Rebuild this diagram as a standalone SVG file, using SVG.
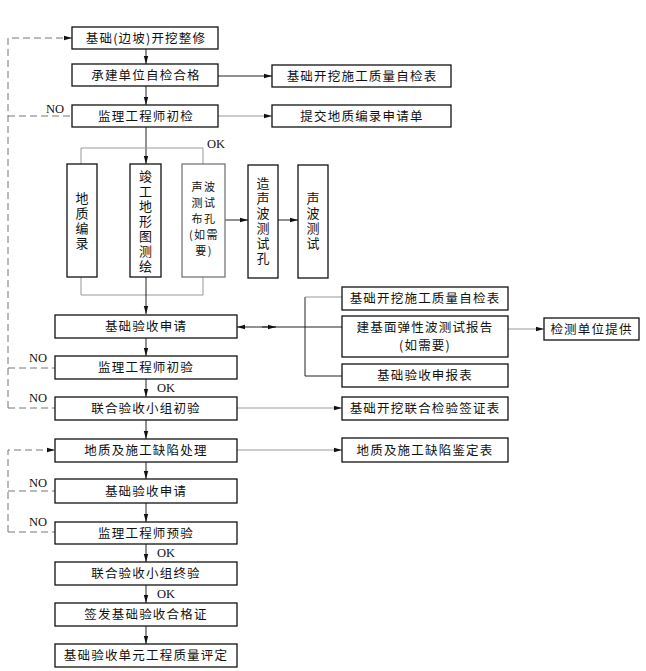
<svg xmlns="http://www.w3.org/2000/svg" width="646" height="671" viewBox="0 0 646 671">
<defs>
<style>
.box{fill:#fff;stroke:#111;stroke-width:1.3}
.gbox{fill:#fff;stroke:#777;stroke-width:1.3}
.t{font-family:"Noto Sans CJK SC","Noto Sans CJK TC",sans-serif;font-size:12.5px;fill:#111;text-anchor:middle;letter-spacing:1.2px}
.v{font-family:"Noto Sans CJK SC",sans-serif;font-size:13px;fill:#111;text-anchor:middle;writing-mode:vertical-rl;letter-spacing:2px}
.h{font-family:"Noto Sans CJK SC",sans-serif;font-size:11px;fill:#111;text-anchor:middle;letter-spacing:1.5px}
.lab{font-family:"Liberation Serif",serif;font-size:12.5px;fill:#111}
.ln{fill:none;stroke:#222;stroke-width:1}
.gl{fill:none;stroke:#999;stroke-width:1}
.dl{fill:none;stroke:#777;stroke-width:1;stroke-dasharray:7,4}
</style>
<marker id="ah" markerWidth="9" markerHeight="6" refX="8" refY="3" orient="auto" markerUnits="userSpaceOnUse">
<path d="M0,0.8 L8,3 L0,5.2 z" fill="#111"/>
</marker>
<marker id="ahs" markerWidth="9" markerHeight="6" refX="0" refY="3" orient="auto" markerUnits="userSpaceOnUse">
<path d="M8,0.8 L0,3 L8,5.2 z" fill="#111"/>
</marker>
</defs>

<g id="connectors">
<line class="ln" x1="146" y1="49" x2="146" y2="64" marker-end="url(#ah)"/>
<line class="ln" x1="146" y1="86" x2="146" y2="105" marker-end="url(#ah)"/>
<line class="ln" x1="146" y1="127" x2="146" y2="164" marker-end="url(#ah)"/>
<path class="gl" d="M81,164 V148 H203 V164"/>
<path class="gl" d="M81,277 V295 H203 V277"/>
<line class="ln" x1="146" y1="277" x2="146" y2="314" marker-end="url(#ah)"/>
<line class="ln" x1="218" y1="76" x2="272" y2="76" marker-end="url(#ah)"/>
<line class="gl" x1="218" y1="116" x2="272" y2="116" marker-end="url(#ah)"/>
<line class="ln" x1="225" y1="220" x2="248" y2="220" marker-end="url(#ah)"/>
<line class="ln" x1="278" y1="220" x2="298" y2="220" marker-end="url(#ah)"/>
<line class="ln" x1="146" y1="338" x2="146" y2="356" marker-end="url(#ah)"/>
<line class="ln" x1="146" y1="379" x2="146" y2="397" marker-end="url(#ah)"/>
<line class="ln" x1="146" y1="420" x2="146" y2="439" marker-end="url(#ah)"/>
<line class="ln" x1="146" y1="462" x2="146" y2="479" marker-end="url(#ah)"/>
<line class="ln" x1="146" y1="503" x2="146" y2="522" marker-end="url(#ah)"/>
<line class="ln" x1="146" y1="544" x2="146" y2="562" marker-end="url(#ah)"/>
<line class="ln" x1="146" y1="585" x2="146" y2="603" marker-end="url(#ah)"/>
<line class="ln" x1="146" y1="626" x2="146" y2="644" marker-end="url(#ah)"/>
<line class="ln" x1="237" y1="327" x2="305" y2="327" marker-start="url(#ahs)"/>
<line class="ln" x1="262" y1="327" x2="276" y2="327" marker-end="url(#ah)"/>
<path class="ln" d="M305,297 V376 H342"/>
<line class="gl" x1="305" y1="297" x2="342" y2="297"/>
<line class="ln" x1="305" y1="327" x2="342" y2="327"/>
<line class="gl" x1="508" y1="329" x2="544" y2="329" marker-end="url(#ah)"/>
<line class="gl" x1="237" y1="408" x2="342" y2="408" marker-end="url(#ah)"/>
<line class="gl" x1="237" y1="450" x2="342" y2="450" marker-end="url(#ah)"/>
<path class="dl" d="M8,408 V38 H72" marker-end="url(#ah)"/>
<line class="dl" x1="8" y1="116" x2="72" y2="116"/>
<line class="dl" x1="8" y1="368" x2="55" y2="368"/>
<line class="dl" x1="8" y1="408" x2="55" y2="408"/>
<path class="dl" d="M8,532 V450 H55" marker-end="url(#ah)"/>
<line class="dl" x1="8" y1="491" x2="55" y2="491"/>
<line class="dl" x1="8" y1="532" x2="55" y2="532"/>
<text class="lab" x="46" y="113">NO</text>
<text class="lab" x="207" y="148">OK</text>
<text class="lab" x="29" y="362">NO</text>
<text class="lab" x="157" y="392">OK</text>
<text class="lab" x="29" y="402">NO</text>
<text class="lab" x="29" y="487">NO</text>
<text class="lab" x="29" y="526">NO</text>
<text class="lab" x="157" y="557">OK</text>
<text class="lab" x="157" y="598">OK</text>
</g>

<g id="n1"><rect class="box" x="72" y="27" width="146" height="22"/><text class="t" x="146" y="42.5">基础(边坡)开挖整修</text></g>
<g id="n2"><rect class="box" x="72" y="64" width="146" height="22"/><text class="t" x="146" y="79.5">承建单位自检合格</text></g>
<g id="n3"><rect class="box" x="272" y="65" width="179" height="22"/><text class="t" x="362" y="80.5">基础开挖施工质量自检表</text></g>
<g id="n4"><rect class="box" x="72" y="105" width="146" height="22"/><text class="t" x="146" y="120.5">监理工程师初检</text></g>
<g id="n5"><rect class="box" x="272" y="105" width="179" height="22"/><text class="t" x="362" y="120.5">提交地质编录申请单</text></g>

<g id="n6"><rect class="box" x="67" y="164" width="30" height="113"/>
<text class="v" x="82" y="222">地质编录</text></g>
<g id="n7"><rect class="box" x="130" y="164" width="31" height="113"/>
<text class="v" x="145.5" y="222">竣工地形图测绘</text></g>
<g id="n8"><rect class="gbox" x="182" y="164" width="43" height="113"/>
<text class="h"><tspan x="204" y="191">声波</tspan><tspan x="204" y="207">测试</tspan><tspan x="204" y="223">布孔</tspan><tspan x="204" y="239">(如需</tspan><tspan x="204" y="255">要)</tspan></text></g>
<g id="n9"><rect class="box" x="248" y="165" width="30" height="113"/>
<text class="v" x="263" y="222">造声波测试孔</text></g>
<g id="n10"><rect class="box" x="298" y="165" width="30" height="113"/>
<text class="v" x="313" y="222">声波测试</text></g>

<g id="n11"><rect class="box" x="55" y="315" width="182" height="23"/><text class="t" x="146" y="331">基础验收申请</text></g>
<g id="n12"><rect class="box" x="342" y="287" width="166" height="23"/><text class="t" x="425" y="303">基础开挖施工质量自检表</text></g>
<g id="n13"><rect class="box" x="342" y="316" width="166" height="41"/><text class="t"><tspan x="425" y="332">建基面弹性波测试报告</tspan><tspan x="425" y="350">(如需要)</tspan></text></g>
<g id="n14"><rect class="box" x="544" y="318" width="95" height="22"/><text class="t" x="591.5" y="333.5">检测单位提供</text></g>
<g id="n15"><rect class="box" x="342" y="364" width="166" height="23"/><text class="t" x="425" y="380">基础验收申报表</text></g>
<g id="n16"><rect class="box" x="55" y="356" width="182" height="23"/><text class="t" x="146" y="372">监理工程师初验</text></g>
<g id="n17"><rect class="box" x="55" y="397" width="182" height="23"/><text class="t" x="146" y="413">联合验收小组初验</text></g>
<g id="n18"><rect class="box" x="342" y="397" width="166" height="23"/><text class="t" x="425" y="413">基础开挖联合检验签证表</text></g>
<g id="n19"><rect class="box" x="55" y="439" width="182" height="23"/><text class="t" x="146" y="455">地质及施工缺陷处理</text></g>
<g id="n20"><rect class="box" x="342" y="438" width="166" height="24"/><text class="t" x="425" y="454.5">地质及施工缺陷鉴定表</text></g>
<g id="n21"><rect class="box" x="55" y="479" width="182" height="24"/><text class="t" x="146" y="495.5">基础验收申请</text></g>
<g id="n22"><rect class="box" x="55" y="522" width="182" height="22"/><text class="t" x="146" y="537.5">监理工程师预验</text></g>
<g id="n23"><rect class="box" x="55" y="562" width="182" height="23"/><text class="t" x="146" y="578">联合验收小组终验</text></g>
<g id="n24"><rect class="box" x="55" y="603" width="182" height="23"/><text class="t" x="146" y="619">签发基础验收合格证</text></g>
<g id="n25"><rect class="box" x="55" y="644" width="182" height="23"/><text class="t" x="146" y="660">基础验收单元工程质量评定</text></g>
</svg>
